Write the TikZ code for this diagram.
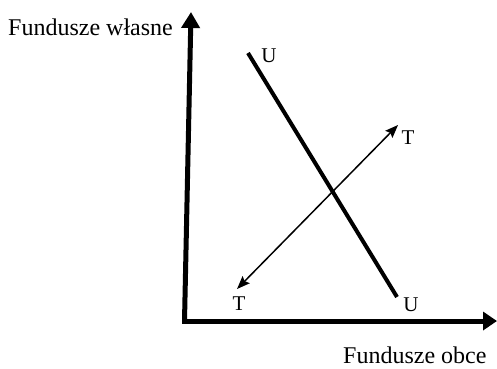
\documentclass[tikz,border=0pt]{standalone}
\usepackage{fontspec}
\setmainfont{Liberation Serif}
\usetikzlibrary{arrows.meta}
\begin{document}
\begin{tikzpicture}[x=1pt,y=-1pt,
  axis/.style={line width=5pt,-{Triangle[length=16pt,width=18pt]}},
  uline/.style={line width=4pt},
  tarrow/.style={line width=1.5pt,{Stealth[length=13pt,width=10pt,inset=2pt]}-{Stealth[length=13pt,width=10pt,inset=2pt]}},
  axlabel/.style={inner sep=0pt,font=\fontsize{24}{28}\selectfont},
  ptlabel/.style={inner sep=0pt,font=\fontsize{21}{25}\selectfont}]
\useasboundingbox (0,0) rectangle (497,368);
\coordinate (O) at (184.5,321);
\coordinate (Ytip) at (191,12);
\coordinate (Xtip) at (497,321);
\draw[axis] (O) -- (Ytip);
\draw[line width=5pt,-{Triangle[length=14pt,width=18pt]}] (182,321) -- (Xtip);
\fill (182,318.5) rectangle (187,323.5);
\coordinate (U1) at (248,53);
\coordinate (U2) at (397,297);
\draw[uline] (U1) -- (U2);
\coordinate (T1) at (237,289);
\coordinate (T2) at (398,125);
\draw[tarrow] (T1) -- (T2);
\node[axlabel,anchor=base west] (fw) at (8,35) {Fundusze własne};
\node[axlabel,anchor=base west] (fo) at (343,363.5) {Fundusze obce};
\node[ptlabel] (lu1) at (269,56) {U};
\node[ptlabel] (lu2) at (411,304.5) {U};
\node[ptlabel] (lt1) at (408,137.5) {T};
\node[ptlabel] (lt2) at (239,304) {T};
\end{tikzpicture}
\end{document}
